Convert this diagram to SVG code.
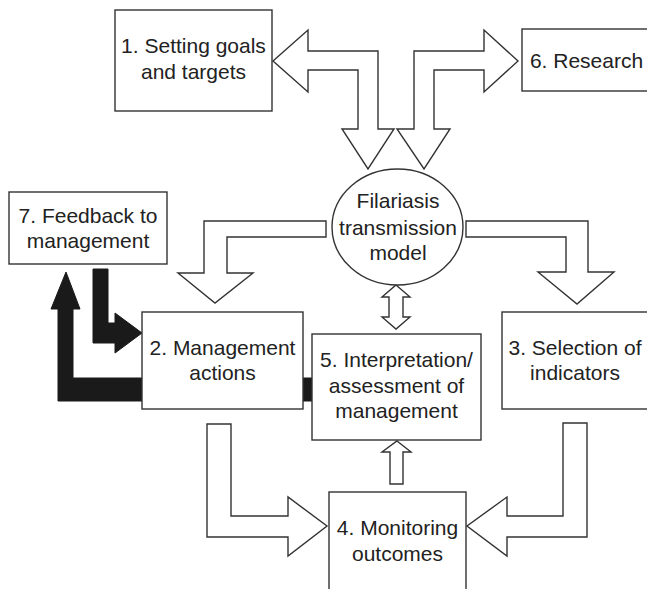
<svg xmlns="http://www.w3.org/2000/svg" width="647" height="589" viewBox="0 0 647 589">
<style>
.box{fill:#fff;stroke:#333;stroke-width:1.4}
.arr{fill:#fff;stroke:#333;stroke-width:1.4;stroke-linejoin:miter}
.blk{fill:#1a1a1a;stroke:#1a1a1a;stroke-width:1}
text{font-family:"Liberation Sans",Arial,sans-serif;font-size:21px;fill:#222;text-anchor:middle}
</style>
<rect width="647" height="589" fill="#fff"/>
<g id="connectors">
<polygon class="arr" points="273,61 308,30 308,51 378,51 378,129 394,129 368,169 342,129 358,129 358,70 308,70 308,92"/>
<polygon class="arr" points="414,129 414,51 484,51 484,30 518,61 484,92 484,70 434,70 434,129 450,129 424,169 397,129"/>
<polygon class="arr" points="326,221 204,221 204,273 178,273 215,303 253,273 227,273 227,237 326,237"/>
<polygon class="arr" points="466,221 588,221 588,272 614,272 577,304 538,272 566,272 566,237 466,237"/>
<polygon class="arr" points="396,285 410,297 403,297 403,317 410,317 396,329 382,317 389,317 389,297 382,297"/>
<polygon class="arr" points="563,423 587,423 587,537 507,537 507,556 467,526 507,497 507,516 563,516"/>
<polygon class="arr" points="207,424 231,424 231,516 288,516 288,497 327,526 288,556 288,537 207,537"/>
<polygon class="arr" points="397,441 411,452 403,452 403,484 390,484 390,452 382,452"/>
<polygon class="blk" points="93,269 108,269 108,323 115,323 115,313 142,333 115,353 115,343 93,343"/>
<polygon class="blk" points="58,401 58,309 51,309 66,272 80,309 73,309 73,378 313,378 313,401"/>
</g>
<g id="n1"><rect class="box" x="115" y="10" width="157" height="101"/><text x="193.5" y="53">1. Setting goals</text><text x="193.5" y="79">and targets</text></g>
<g id="n6"><rect class="box" x="522" y="29" width="140" height="62"/><text x="586.5" y="68">6. Research</text></g>
<g id="nmodel"><ellipse class="box" cx="397.5" cy="227" rx="65.5" ry="58"/><text x="398" y="208">Filariasis</text><text x="398" y="235">transmission</text><text x="398" y="260">model</text></g>
<g id="n7"><rect class="box" x="9" y="192" width="158" height="72"/><text x="88" y="223">7. Feedback to</text><text x="88" y="248">management</text></g>
<g id="n2"><rect class="box" x="142" y="312" width="161" height="97"/><text x="222.5" y="355">2. Management</text><text x="222.5" y="380">actions</text></g>
<g id="n5"><rect class="box" x="312" y="334" width="169" height="106"/><text x="396.5" y="367">5. Interpretation/</text><text x="396.5" y="393">assessment of</text><text x="396.5" y="418">management</text></g>
<g id="n3"><rect class="box" x="502" y="312" width="160" height="97"/><text x="575" y="355">3. Selection of</text><text x="575" y="380">indicators</text></g>
<g id="n4"><rect class="box" x="329" y="492" width="137" height="110"/><text x="397.5" y="535">4. Monitoring</text><text x="397.5" y="561">outcomes</text></g>
</svg>
